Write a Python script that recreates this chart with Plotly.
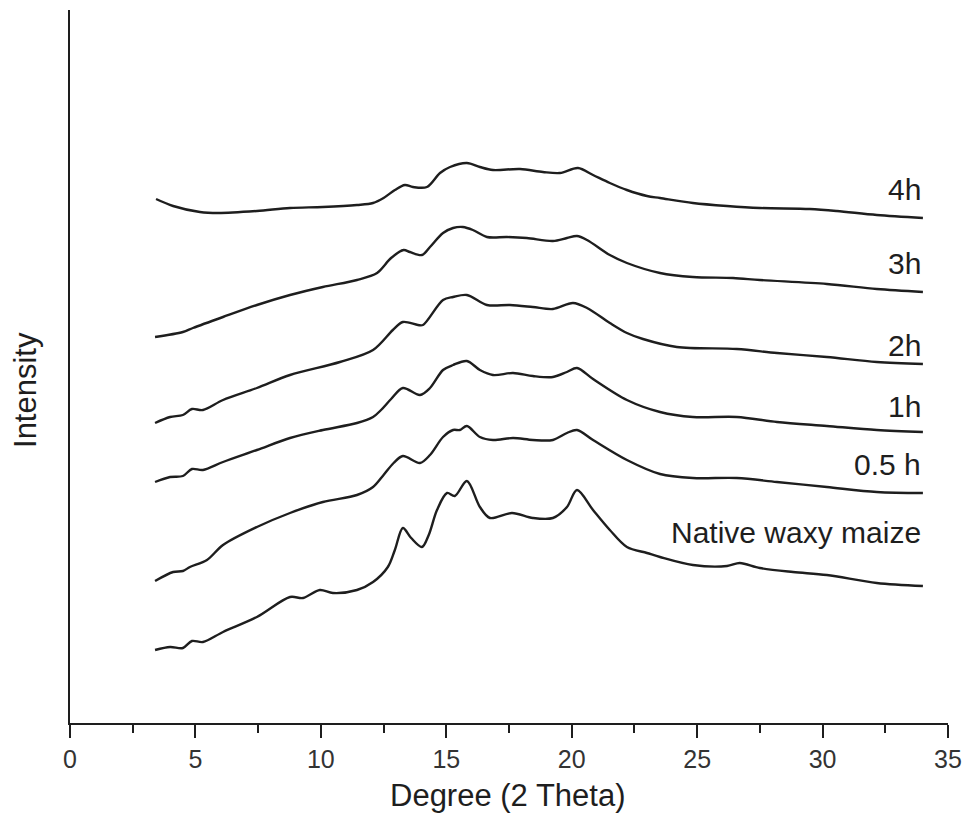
import plotly.graph_objects as go

# XRD patterns (offset stacked), 2-theta in degrees
x_4h = [3.43, 4.11, 5.18, 5.90, 7.45, 8.77, 10.08, 11.44, 12.08, 12.50, 12.95, 13.35, 13.67, 14.23, 14.75,
        15.15, 15.82, 16.34, 16.86, 17.94, 18.85, 19.53, 20.25, 20.85, 21.52, 22.20, 23.00, 23.52, 24.83,
        26.19, 27.50, 29.49, 30.57, 32.16, 34.00]
y_4h = [524, 517, 511, 510, 512, 515, 516, 518, 520, 525, 533, 538, 536, 536, 550,
        556, 560, 556, 553, 554, 551, 550, 555, 548, 540, 533, 527, 525, 520,
        517, 515, 514, 512, 508, 505]

x_3h = [3.39, 4.50, 4.90, 6.10, 7.45, 8.77, 10.08, 11.44, 12.24, 12.80, 13.30, 13.55, 14.03, 14.35,
        14.87, 15.27, 15.66, 16.06, 16.62, 17.42, 18.21, 19.25, 19.81, 20.21, 20.61, 21.52, 22.20, 23.52,
        24.83, 26.43, 27.50, 30.17, 32.16, 34.00]
y_3h = [386, 391, 395, 406, 418, 428, 436, 443, 450, 465, 473, 471, 468, 476,
        490, 495, 496, 493, 486, 486, 485, 482, 485, 487, 483, 468, 460, 450,
        446, 445, 443, 439, 434, 431]

x_2h = [3.39, 3.99, 4.50, 4.86, 5.30, 6.10, 7.45, 8.77, 10.76, 12.08, 12.87, 13.27, 13.87, 14.07, 14.87,
        15.27, 15.82, 16.62, 17.54, 18.45, 19.25, 20.05, 20.61, 21.52, 22.20, 22.84, 24.19, 26.58, 28.18,
        30.17, 32.16, 34.00]
y_2h = [300, 306, 308, 314, 313, 323, 335, 348, 361, 373, 393, 401, 398, 398, 423,
        426, 428, 418, 418, 416, 414, 420, 415, 400, 390, 384, 376, 374, 370,
        366, 361, 359]

x_1h = [3.39, 3.99, 4.50, 4.86, 5.30, 6.10, 7.45, 8.77, 10.08, 11.44, 12.08, 12.40, 12.80, 13.27,
        13.95, 14.35, 14.87, 15.27, 15.82, 16.34, 16.86, 17.66, 18.45, 19.25, 19.81, 20.21, 20.85, 22.20,
        23.52, 24.83, 26.58, 28.18, 30.17, 32.16, 34.00]
y_1h = [241, 246, 247, 254, 253, 261, 273, 285, 293, 300, 306, 313, 324, 335,
        328, 335, 353, 358, 362, 353, 348, 350, 347, 346, 351, 355, 344, 323,
        311, 306, 306, 301, 297, 293, 291]

x_05h = [3.39, 4.11, 4.50, 4.78, 5.46, 6.10, 7.45, 8.77, 10.08, 11.44, 12.08, 12.50, 12.90, 13.27,
         13.95, 14.35, 14.87, 15.27, 15.54, 15.82, 16.34, 16.86, 17.66, 18.45, 19.25, 19.81, 20.21, 20.85,
         22.20, 23.52, 24.83, 26.58, 28.18, 30.17, 32.16, 34.00]
y_05h = [142, 151, 152, 156, 163, 178, 196, 210, 221, 228, 236, 248, 260, 267,
         260, 268, 286, 293, 293, 297, 286, 283, 285, 283, 283, 290, 293, 283,
         263, 249, 245, 245, 241, 236, 231, 230]

x_native = [3.39, 3.99, 4.50, 4.86, 5.30, 6.10, 7.45, 8.77, 9.29, 9.96, 10.48, 11.44, 12.08, 12.67, 12.95,
            13.27, 13.60, 14.03, 14.30, 14.63, 15.03, 15.34, 15.82, 16.34, 16.74, 17.62, 18.45, 19.25, 19.81,
            20.21, 20.85, 21.52, 22.20, 23.00, 23.52, 24.83, 26.19, 26.70, 27.50, 28.82, 30.17, 32.16, 34.00]
y_native = [73, 76, 75, 82, 81, 91, 106, 126, 125, 133, 130, 133, 141, 156, 173,
            195, 185, 176, 188, 213, 230, 227, 242, 216, 205, 210, 205, 205, 216,
            233, 213, 193, 176, 170, 166, 158, 157, 160, 155, 151, 148, 140, 137]

series = [
    ("4h", x_4h, y_4h, 534),
    ("3h", x_3h, y_3h, 460),
    ("2h", x_2h, y_2h, 378),
    ("1h", x_1h, y_1h, 317),
    ("0.5 h", x_05h, y_05h, 259),
    ("Native waxy maize", x_native, y_native, 191),
]

FONT = "Liberation Sans, Arial, sans-serif"
INK = "#1e1e1e"

fig = go.Figure()
annotations = []
for name, xs, ys, label_y in series:
    fig.add_trace(go.Scatter(
        x=xs, y=ys, mode="lines", name=name,
        line=dict(color=INK, width=2.4, shape="spline", smoothing=0.9),
        showlegend=False,
    ))
    annotations.append(dict(
        x=34.0, y=label_y, xref="x", yref="y", text=name, showarrow=False,
        xanchor="right", yanchor="middle",
        font=dict(family=FONT, size=30, color=INK),
    ))

annotations.append(dict(
    x=0.4989, y=-0.102, xref="paper", yref="paper", text="Degree (2 Theta)",
    showarrow=False, xanchor="center", yanchor="middle",
    font=dict(family=FONT, size=31, color=INK),
))
annotations.append(dict(
    x=-0.0513, y=0.467, xref="paper", yref="paper", text="Intensity",
    showarrow=False, xanchor="center", yanchor="middle", textangle=-90,
    font=dict(family=FONT, size=31, color=INK),
))

fig.update_layout(
    width=966, height=830, autosize=False,
    margin=dict(l=70, r=18, t=10, b=107, pad=0),
    paper_bgcolor="white", plot_bgcolor="white",
    annotations=annotations,
    xaxis=dict(
        range=[0, 35], showgrid=False, zeroline=False, automargin=False,
        showline=True, linecolor=INK, linewidth=2,
        ticks="outside", tickmode="linear", tick0=0, dtick=5,
        ticklen=13, tickwidth=2, tickcolor=INK,
        minor=dict(ticks="outside", dtick=2.5, ticklen=8, tickwidth=2, tickcolor=INK),
        tickfont=dict(family=FONT, size=25, color="#333"),
    ),
    yaxis=dict(
        range=[0, 713], showgrid=False, zeroline=False, automargin=False,
        showline=True, linecolor=INK, linewidth=2,
        ticks="", showticklabels=False,
    ),
)

fig.write_html("out.html")
